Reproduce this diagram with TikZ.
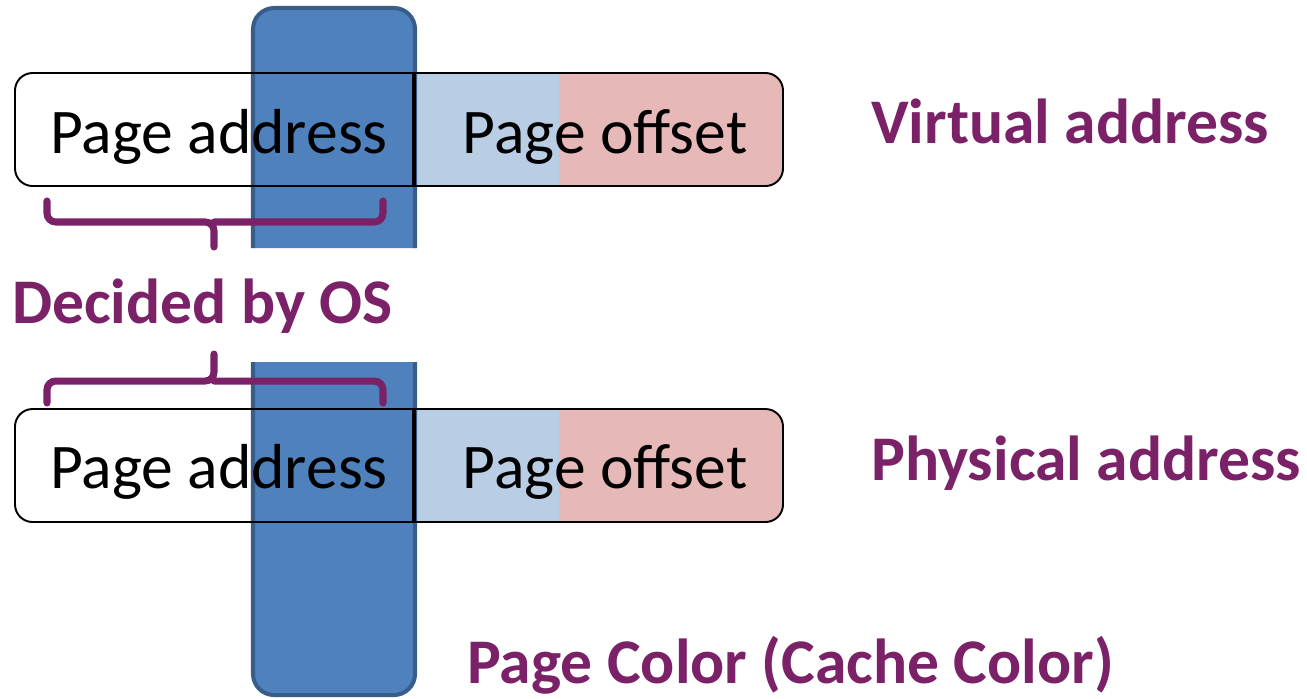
\documentclass[tikz,border=0pt]{standalone}
\usepackage{fontspec}
\setmainfont{Carlito}
\usepackage{tikz}
\usetikzlibrary{positioning, calc}
\definecolor{mypurple}{RGB}{122,33,104}
\definecolor{colfill}{RGB}{79,129,189}
\definecolor{colline}{RGB}{56,93,138}
\definecolor{offblue}{RGB}{185,205,229}
\definecolor{offred}{RGB}{230,185,184}
\tikzset{
  addrtext/.style={font=\fontsize{36.2}{43}\selectfont, anchor=base, inner sep=0pt},
  purpletext/.style={font=\fontsize{36.2}{43}\selectfont\bfseries, text=mypurple,
    anchor=base west, inner sep=0pt},
  bar/.style={draw=black, line width=1.1pt, rounded corners=10pt},
  divider/.style={draw=black, line width=1.8pt},
  column/.style={fill=colfill, draw=colline, line width=2.3pt, rounded corners=12pt},
  bracket/.style={draw=mypurple, line width=4pt, line cap=round, rounded corners=5pt}
}

\begin{document}
\begin{tikzpicture}[x=0.02cm, y=-0.02cm]
  \useasboundingbox (0,0) rectangle (1307,698);

  % Virtual address bar fills (clipped to the rounded outline)
  \begin{scope}
    \clip[rounded corners=10pt] (15,73) rectangle (783,186);
    \fill[white] (15,73) rectangle (416,186);
    \fill[offblue] (416,73) rectangle (559,186);
    \fill[offred] (559,73) rectangle (783,186);
  \end{scope}

  % Physical address bar fills
  \begin{scope}
    \clip[rounded corners=10pt] (15,409) rectangle (783,522);
    \fill[white] (15,409) rectangle (416,522);
    \fill[offblue] (416,409) rectangle (559,522);
    \fill[offred] (559,409) rectangle (783,522);
  \end{scope}

  % Page colour column - split in two, open where the braces are
  \path[column] (253,248) -- (253,8) -- (415,8) -- (415,248);
  \path[column] (253,362) -- (253,695) -- (415,695) -- (415,362);

  % Bar outlines and split between address and offset
  \draw[bar] (15,73) rectangle (783,186);
  \draw[divider] (414,73) -- (414,186);
  \draw[bar] (15,409) rectangle (783,522);
  \draw[divider] (414,409) -- (414,522);

  % Field texts
  \node[addrtext] (vpage) at (219,153) {Page address};
  \node[addrtext] (voff) at (605,153) {Page offset};
  \node[addrtext] (ppage) at (219,488) {Page address};
  \node[addrtext] (poff) at (605,488) {Page offset};

  % Braces round the page address bits
  \draw[bracket] (47,201) -- (47,222) -- (214,222) -- (214,247);
  \draw[bracket] (214,222) -- (383,222) -- (383,201);
  \draw[bracket] (47,403) -- (47,381) -- (214,381) -- (214,354);
  \draw[bracket] (214,381) -- (383,381) -- (383,403);

  % Labels
  \node[purpletext] (os) at (12,323) {Decided by OS};
  \node[purpletext] (vlabel) at (871,143) {Virtual address};
  \node[purpletext] (plabel) at (871,480) {Physical address};
  \node[purpletext] (colour) at (467,683) {Page Color (Cache Color)};
\end{tikzpicture}
\end{document}
